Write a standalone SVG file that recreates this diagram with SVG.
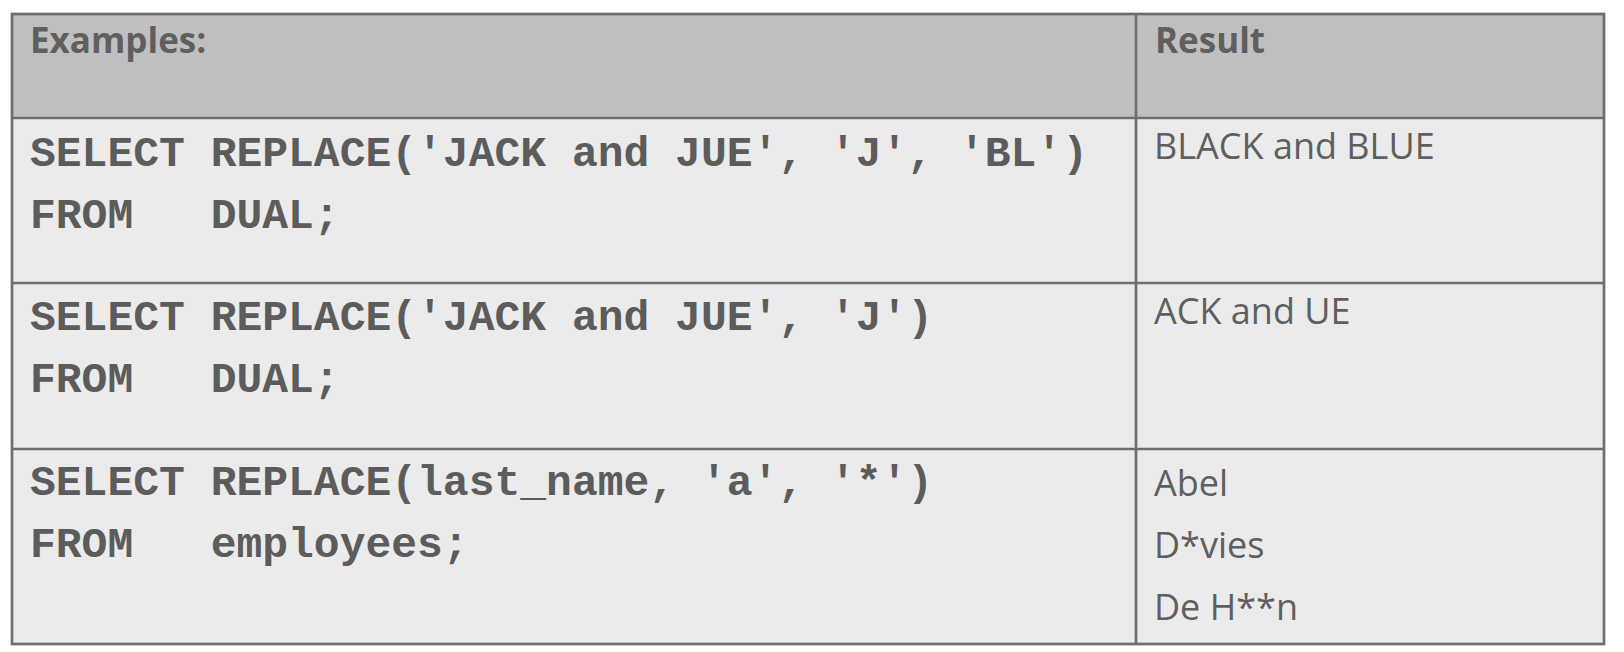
<svg xmlns="http://www.w3.org/2000/svg" width="1624" height="652" viewBox="0 0 1624 652">
  <style>
    .hdr { fill: #bfbfbf; }
    .body { fill: #ebebeb; }
    .grid { stroke: #6e6e6e; stroke-width: 2.7; fill: none; }
    .h { font-family: "Open Sans", "Liberation Sans", Arial, sans-serif; font-weight: bold; font-size: 35px; fill: #5f5f5f; }
    .r { font-family: "Open Sans", "Liberation Sans", Arial, sans-serif; font-size: 36px; fill: #5f5f5f; }
    .c { font-family: "Liberation Mono", "Courier New", monospace; font-weight: bold; font-size: 43px; fill: #5c5c5c; white-space: pre; }
  </style>
  <rect width="1624" height="652" fill="#ffffff"/>
  <g id="header">
    <rect class="hdr" x="12" y="14" width="1592" height="104"/>
    <text class="h" x="30" y="53">Examples:</text>
    <text class="h" x="1155" y="53">Result</text>
  </g>
  <g id="row1">
    <rect class="body" x="12" y="118" width="1592" height="165"/>
    <text class="c" x="30" y="166" xml:space="preserve">SELECT REPLACE('JACK and JUE', 'J', 'BL')</text>
    <text class="c" x="30" y="228" xml:space="preserve">FROM   DUAL;</text>
    <text class="r" x="1154" y="159">BLACK and BLUE</text>
  </g>
  <g id="row2">
    <rect class="body" x="12" y="283" width="1592" height="166"/>
    <text class="c" x="30" y="330" xml:space="preserve">SELECT REPLACE('JACK and JUE', 'J')</text>
    <text class="c" x="30" y="392" xml:space="preserve">FROM   DUAL;</text>
    <text class="r" x="1154" y="324">ACK and UE</text>
  </g>
  <g id="row3">
    <rect class="body" x="12" y="449" width="1592" height="195"/>
    <text class="c" x="30" y="495" xml:space="preserve">SELECT REPLACE(last_name, 'a', '*')</text>
    <text class="c" x="30" y="557" xml:space="preserve">FROM   employees;</text>
    <text class="r" x="1154" y="496">Abel</text>
    <text class="r" x="1154" y="558">D*vies</text>
    <text class="r" x="1154" y="620">De H**n</text>
  </g>
  <g id="gridlines">
    <rect class="grid" x="12" y="14" width="1592" height="630"/>
    <line class="grid" x1="12" y1="118" x2="1604" y2="118"/>
    <line class="grid" x1="12" y1="283" x2="1604" y2="283"/>
    <line class="grid" x1="12" y1="449" x2="1604" y2="449"/>
    <line class="grid" x1="1136" y1="14" x2="1136" y2="644"/>
  </g>
</svg>
